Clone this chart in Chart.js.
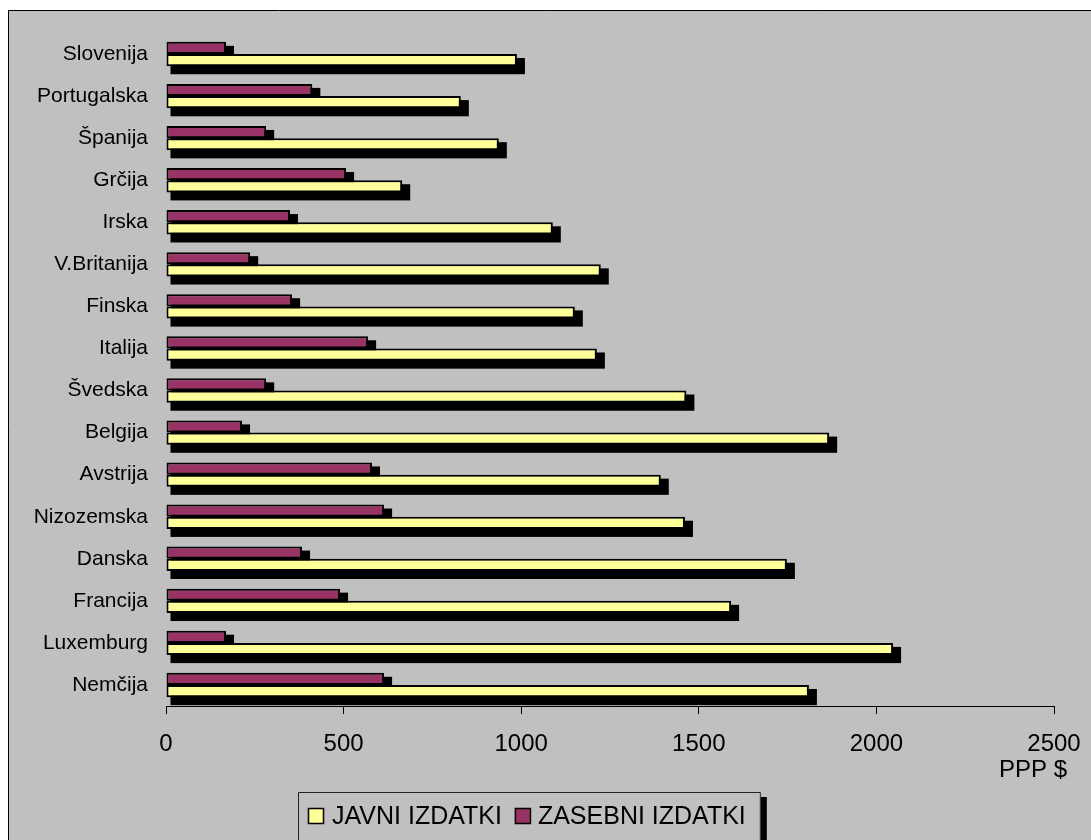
<!DOCTYPE html>
<html>
<head>
<meta charset="utf-8">
<script src="https://cdn.jsdelivr.net/npm/chart.js@4/dist/chart.umd.min.js"></script>
<style>
  html, body { margin: 0; padding: 0; background: #fff; overflow: hidden; }
  #wrap { position: relative; width: 1091px; height: 840px; }
</style>
</head>
<body>
<div id="wrap"><canvas id="c" width="1091" height="840"></canvas></div>
<script>
// Spending per student (PPP $), public vs. private
const countries = ['Slovenija', 'Portugalska', 'Španija', 'Grčija', 'Irska', 'V.Britanija', 'Finska', 'Italija',
                   'Švedska', 'Belgija', 'Avstrija', 'Nizozemska', 'Danska', 'Francija', 'Luxemburg', 'Nemčija'];
const javni   = [988, 830, 937, 665, 1089, 1224, 1151, 1213, 1465, 1867, 1393, 1461, 1748, 1591, 2047, 1810];
const zasebni = [169, 412, 282, 507, 349, 237, 355, 569, 282, 214, 580, 614, 383, 490, 169, 614];
const xTicks  = [0, 500, 1000, 1500, 2000, 2500];
const unitLabel = 'PPP $';

const FONT = '"Liberation Sans", Arial, Helvetica, sans-serif';
const GRAY = '#C0C0C0';
const MAROON = '#993366';
const YELLOW = '#FFFF99';

Chart.defaults.font.family = FONT;
Chart.defaults.color = '#000';

// Gray framed panel behind everything
const panel = {
  id: 'panel',
  beforeDraw(chart) {
    const ctx = chart.ctx;
    ctx.save();
    ctx.fillStyle = '#fff';
    ctx.fillRect(0, 0, chart.width, chart.height);
    ctx.fillStyle = GRAY;
    ctx.fillRect(8, 10, chart.width, chart.height);
    ctx.strokeStyle = '#000';
    ctx.lineWidth = 1;
    ctx.beginPath();
    ctx.moveTo(8.5, chart.height + 1);
    ctx.lineTo(8.5, 10.5);
    ctx.lineTo(chart.width + 1, 10.5);
    ctx.stroke();
    ctx.restore();
  }
};

// Black drop shadow behind each bar
const barShadow = {
  id: 'barShadow',
  beforeDatasetsDraw(chart) {
    const ctx = chart.ctx;
    ctx.save();
    ctx.fillStyle = '#000';
    chart.data.datasets.forEach((ds, i) => {
      chart.getDatasetMeta(i).data.forEach(bar => {
        const p = bar.getProps(['x', 'y', 'base', 'height'], true);
        const top = p.y - p.height / 2;
        ctx.fillRect(p.base + 4, top + 4, p.x - p.base + 4, p.height + 4);
      });
    });
    ctx.restore();
  }
};

// Unit caption under the last tick and the boxed legend
const extras = {
  id: 'extras',
  afterDraw(chart) {
    const ctx = chart.ctx;
    const area = chart.chartArea;
    ctx.save();
    ctx.font = '24px ' + FONT;
    ctx.fillStyle = '#000';
    ctx.textBaseline = 'middle';
    ctx.textAlign = 'right';
    ctx.fillText(unitLabel, area.right + 13, area.bottom + 64);

    // legend: public first, then private
    ctx.font = '25px ' + FONT;
    const items = chart.data.datasets.slice().reverse();
    const boxLeft = 298, boxTop = 792;
    const mid = boxTop + 24;
    let x = boxLeft + 10;
    const placed = [];
    items.forEach((ds, k) => {
      const w = ctx.measureText(ds.label).width;
      const gap = k === 0 ? 9 : 8;
      placed.push({ ds, sx: x, tx: x + 15 + gap });
      x = x + 15 + gap + w + 13;
    });
    const boxRight = x + 2;
    // legend shadow + frame
    ctx.fillStyle = '#000';
    ctx.fillRect(boxRight, boxTop + 5, 6, chart.height);
    ctx.fillStyle = GRAY;
    ctx.fillRect(boxLeft, boxTop, boxRight - boxLeft, chart.height);
    ctx.strokeStyle = '#222';
    ctx.lineWidth = 1;
    ctx.beginPath();
    ctx.moveTo(boxLeft + 0.5, chart.height + 1);
    ctx.lineTo(boxLeft + 0.5, boxTop + 0.5);
    ctx.lineTo(boxRight - 0.5, boxTop + 0.5);
    ctx.lineTo(boxRight - 0.5, chart.height + 1);
    ctx.stroke();
    placed.forEach(p => {
      ctx.fillStyle = p.ds.backgroundColor;
      ctx.fillRect(p.sx, mid - 8, 15, 15);
      ctx.strokeStyle = '#000';
      ctx.lineWidth = 1.5;
      ctx.strokeRect(p.sx + 0.5, mid - 7.5, 15, 15);
      ctx.fillStyle = '#000';
      ctx.textAlign = 'left';
      ctx.fillText(p.ds.label, p.tx, mid + 1);
    });
    ctx.restore();
  }
};

new Chart(document.getElementById('c'), {
  type: 'bar',
  data: {
    labels: countries,
    datasets: [
      { label: 'ZASEBNI IZDATKI', data: zasebni, backgroundColor: MAROON,
        borderColor: '#000', borderWidth: 2, borderSkipped: false },
      { label: 'JAVNI IZDATKI', data: javni, backgroundColor: YELLOW,
        borderColor: '#000', borderWidth: 2, borderSkipped: false }
    ]
  },
  options: {
    indexAxis: 'y',
    responsive: false,
    devicePixelRatio: 1,
    animation: false,
    categoryPercentage: 0.58,
    barPercentage: 1,
    layout: { padding: { top: 33, right: 37, left: 0, bottom: 0 } },
    plugins: {
      legend: { display: false },
      tooltip: { enabled: false }
    },
    scales: {
      x: {
        min: xTicks[0],
        max: xTicks[xTicks.length - 1],
        afterBuildTicks(scale) { scale.ticks = xTicks.map(v => ({ value: v })); },
        afterFit(scale) { scale.height = 134; scale.paddingLeft = 0; scale.paddingRight = 0; },
        grid: { display: true, drawOnChartArea: false, drawTicks: true, tickLength: 8, color: '#000', lineWidth: 1 },
        border: { display: true, color: '#000', width: 1 },
        ticks: { font: { size: 24 }, color: '#000', padding: 16, maxRotation: 0,
                 callback: v => String(v) }
      },
      y: {
        afterFit(scale) { scale.width = 166; scale.paddingTop = 0; scale.paddingBottom = 0; },
        grid: { display: false, drawTicks: false },
        border: { display: false },
        ticks: { font: { size: 21 }, color: '#000', padding: 18 }
      }
    }
  },
  plugins: [panel, barShadow, extras]
});
</script>
</body>
</html>
